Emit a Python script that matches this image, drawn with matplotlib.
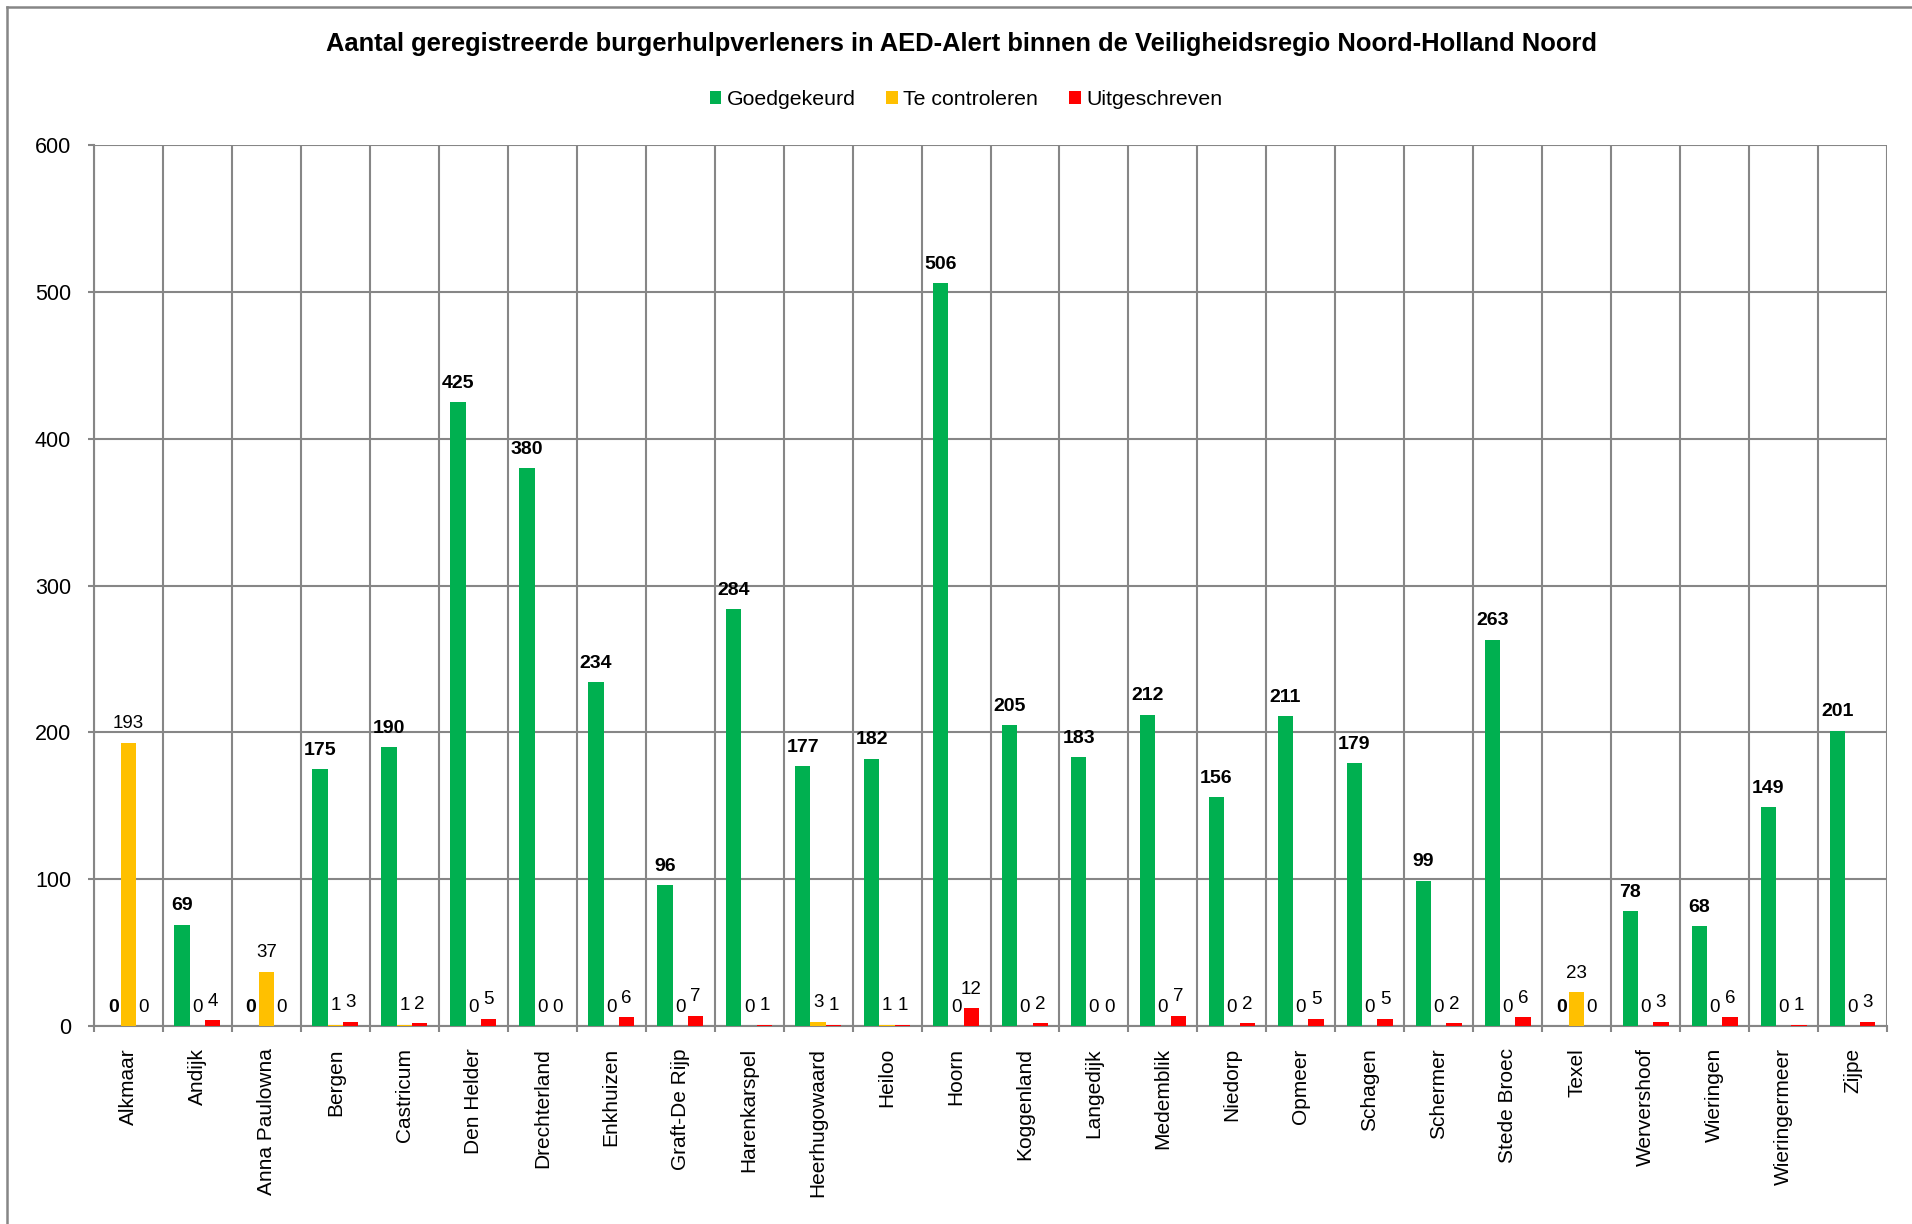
import matplotlib
matplotlib.use("Agg")
import matplotlib.pyplot as plt
import numpy as np
from matplotlib.lines import Line2D
from matplotlib.patches import Patch

plt.rcParams['font.family'] = ['Liberation Sans', 'DejaVu Sans']

categories = ["Alkmaar", "Andijk", "Anna Paulowna", "Bergen", "Castricum", "Den Helder",
              "Drechterland", "Enkhuizen", "Graft-De Rijp", "Harenkarspel", "Heerhugowaard",
              "Heiloo", "Hoorn", "Koggenland", "Langedijk", "Medemblik", "Niedorp", "Opmeer",
              "Schagen", "Schermer", "Stede Broec", "Texel", "Wervershoof", "Wieringen",
              "Wieringermeer", "Zijpe"]
goedgekeurd = [0, 69, 0, 175, 190, 425, 380, 234, 96, 284, 177, 182, 506, 205, 183, 212,
               156, 211, 179, 99, 263, 0, 78, 68, 149, 201]
te_controleren = [193, 0, 37, 1, 1, 0, 0, 0, 0, 0, 3, 1, 0, 0, 0, 0, 0, 0, 0, 0, 0, 23,
                  0, 0, 0, 0]
uitgeschreven = [0, 4, 0, 3, 2, 5, 0, 6, 7, 1, 1, 1, 12, 2, 0, 7, 2, 5, 5, 2, 6, 0, 3, 6,
                 1, 3]
series_names = ["Goedgekeurd", "Te controleren", "Uitgeschreven"]
colors = ["#00B050", "#FFC000", "#FF0000"]
title = "Aantal geregistreerde burgerhulpverleners in AED-Alert binnen de Veiligheidsregio Noord-Holland Noord"
yticks = [0, 100, 200, 300, 400, 500, 600]

W, H = 1912, 1224
fig = plt.figure(figsize=(W / 100, H / 100), dpi=100)
ax = fig.add_axes([94 / W, 1 - 1026 / H, (1887 - 94) / W, (1026 - 145) / H])

grid_c = "#868686"
n = len(categories)
x = np.arange(n)
bw = 0.222
all_series = [goedgekeurd, te_controleren, uitgeschreven]
for i, (vals, name, c) in enumerate(zip(all_series, series_names, colors)):
    bars = ax.bar(x + (i - 1) * bw, vals, width=bw, color=c, label=name, zorder=3,
                  edgecolor='none')
    ax.bar_label(bars, labels=[str(v) for v in vals], padding=7.5,
                 fontsize=14 if i == 0 else 13.5,
                 fontweight='bold' if i == 0 else 'normal', color='black', zorder=4)

ax.set_xlim(-0.5, n - 0.5)
ax.set_ylim(0, 600)
ax.set_yticks(yticks)
ax.set_yticklabels([str(v) for v in yticks], fontsize=15.5)
ax.set_xticks(x)
ax.set_xticklabels(categories, rotation=90, fontsize=15)
ax.set_xticks(np.arange(-0.5, n, 1.0), minor=True)
ax.tick_params(axis='x', which='major', length=0, pad=16)
ax.tick_params(axis='x', which='minor', length=4.5, width=1.5, color=grid_c, direction='out')
ax.tick_params(axis='y', length=4.5, width=1.5, color=grid_c, direction='out', pad=12)
ax.grid(axis='y', which='major', color=grid_c, linewidth=1.5, zorder=1)
ax.grid(axis='x', which='minor', color=grid_c, linewidth=1.5, zorder=1)
ax.grid(axis='x', which='major', visible=False)
for s in ['top', 'right']:
    ax.spines[s].set_visible(False)
for s in ['left', 'bottom']:
    ax.spines[s].set_color(grid_c)
    ax.spines[s].set_linewidth(1.5)

fig.text(961 / W, 1 - 44 / H, title, ha='center', va='center', fontsize=18.4,
         fontweight='bold')

handles = [Patch(facecolor=c, edgecolor='none') for c in colors]
fig.legend(handles, series_names, loc='center', bbox_to_anchor=(966 / W, 1 - 99.5 / H),
           ncol=3, frameon=False, fontsize=15.3, handlelength=0.55, handleheight=0.55,
           handletextpad=0.25, columnspacing=1.45)

# figure border (top and left visible)
fig.add_artist(Line2D([7 / W, 7 / W], [0, 1 - 7 / H], transform=fig.transFigure,
                      color=grid_c, linewidth=1.8))
fig.add_artist(Line2D([7 / W, 1], [1 - 7 / H, 1 - 7 / H], transform=fig.transFigure,
                      color=grid_c, linewidth=1.8))

fig.savefig("out.png", dpi=100, facecolor='white')
